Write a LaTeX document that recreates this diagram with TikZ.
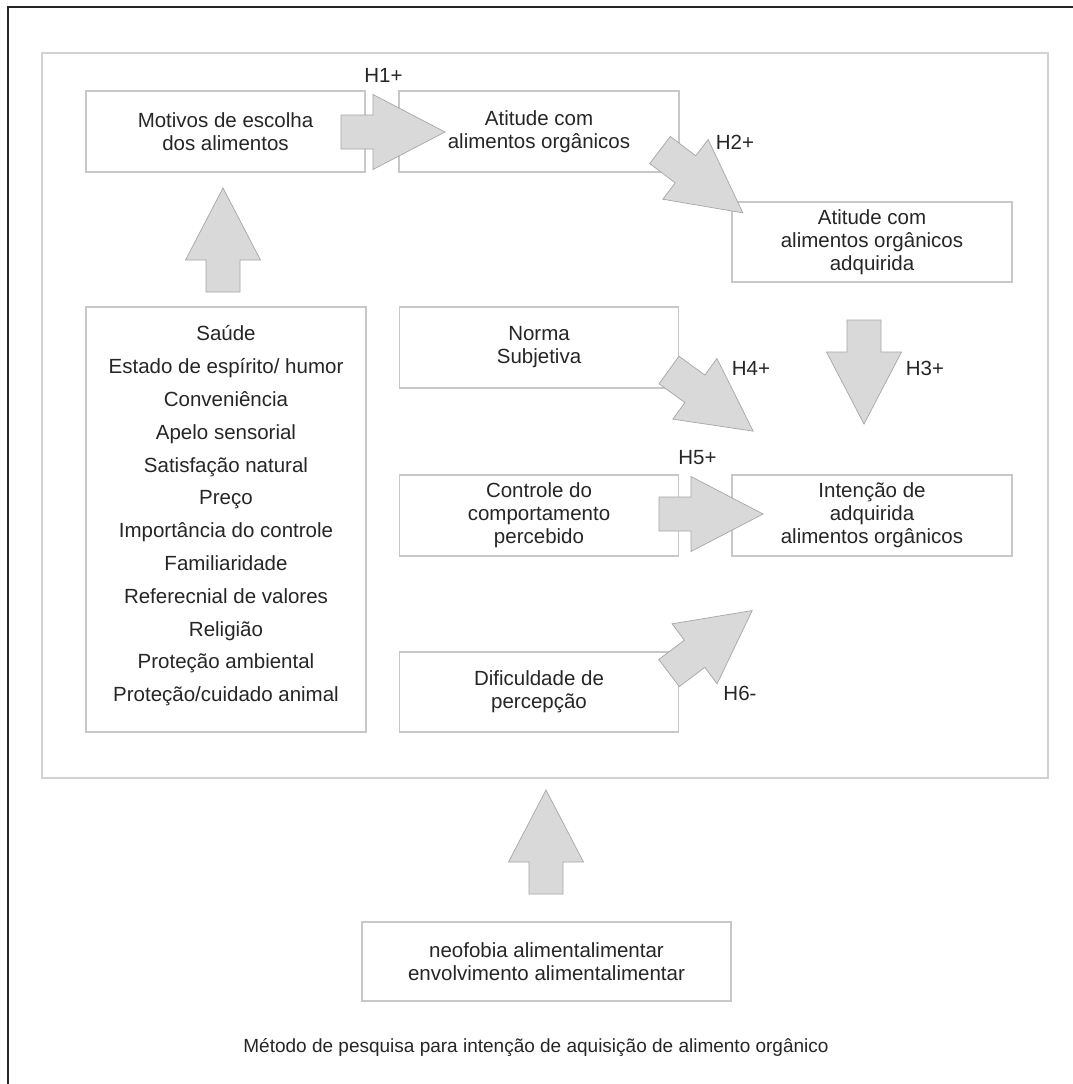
\documentclass[tikz,border=0pt]{standalone}
\usepackage{fontspec}
\setmainfont{Liberation Sans}
\definecolor{boxgray}{HTML}{C8C8C8}
\definecolor{framegray}{HTML}{D2D2D2}
\definecolor{arrfill}{HTML}{D9D9D9}
\definecolor{arrdraw}{HTML}{A6A6A6}
\definecolor{txt}{HTML}{262626}
\newcommand\blockarrow[2]{%
  \filldraw[arr, shift={#1}, rotate=#2] (0,-17) -- (32,-17) -- (32,-37.5) -- (104,0) -- (32,37.5) -- (32,17) -- (0,17) -- cycle;}
\begin{document}
\begin{tikzpicture}[x=1pt,y=-1pt,
  box/.style={draw=boxgray, line width=1.2pt, fill=white, inner sep=0pt, outer sep=0pt,
    align=center, text=txt, font=\fontsize{20.5}{23}\selectfont},
  lbl/.style={inner sep=0pt, text=txt, font=\fontsize{20.5}{23}\selectfont},
  arr/.style={fill=arrfill, draw=arrdraw, line width=0.7pt, line join=miter}]
\useasboundingbox (0,0) rectangle (1072,1084);
\fill[white] (0,0) rectangle (1072,1084);
% outer frame (only left and top visible)
\draw[line width=2pt, black!85] (8,1090) -- (8,7) -- (1080,7);
% inner frame
\draw[framegray, line width=1.5pt] (42,53) rectangle (1048,778);

% boxes
\node[box, minimum width=279pt, minimum height=81pt] (motivos) at (225.5,131.5) {Motivos de escolha\\dos alimentos};
\node[box, minimum width=280pt, minimum height=81pt] (atitude) at (539,131.5) {Atitude com\\alimentos orgânicos};
\node[box, minimum width=280pt, minimum height=80pt] (adquirida) at (872,242) {Atitude com\\alimentos orgânicos\\adquirida};
\node[box, minimum width=280pt, minimum height=425pt] (lista) at (226,519.5) {};
\node[align=center, text=txt, inner sep=0pt, font=\fontsize{20.5}{32.8}\selectfont] (listatxt) at (226,516)
  {Saúde\\Estado de espírito/ humor\\Conveniência\\Apelo sensorial\\Satisfação natural\\Preço\\Importância do controle\\Familiaridade\\Referecnial de valores\\Religião\\Proteção ambiental\\Proteção/cuidado animal};
\node[box, minimum width=279pt, minimum height=81pt] (norma) at (539,347.5) {Norma\\Subjetiva};
\node[box, minimum width=279pt, minimum height=81pt] (controle) at (539,515.5) {Controle do\\comportamento\\percebido};
\node[box, minimum width=280pt, minimum height=81pt] (intencao) at (872,515.5) {Intenção de\\adquirida\\alimentos orgânicos};
\node[box, minimum width=279pt, minimum height=80pt] (dific) at (539,692) {Dificuldade de\\percepção};
\node[box, minimum width=369pt, minimum height=79pt] (neofobia) at (546.5,961.5) {neofobia alimentalimentar\\envolvimento alimentalimentar};

% block arrows
\blockarrow{(223,292)}{90}
\blockarrow{(341,132)}{0}
\blockarrow{(660,150)}{-37.2}
\blockarrow{(864,320)}{-90}
\blockarrow{(669,370)}{-36.0}
\blockarrow{(659,514)}{0}
\blockarrow{(669,673)}{36.9}
\blockarrow{(546,894)}{90}

% labels
\node[lbl] (h1) at (383.5,75) {H1+};
\node[lbl] (h2) at (735,142) {H2+};
\node[lbl] (h3) at (925,368) {H3+};
\node[lbl] (h4) at (751,368) {H4+};
\node[lbl] (h5) at (697.5,458) {H5+};
\node[lbl] (h6) at (740,693) {H6-};

% caption
\node[inner sep=0pt, text=txt, font=\fontsize{19}{22}\selectfont] (caption) at (536,1048)
  {Método de pesquisa para intenção de aquisição de alimento orgânico};
\end{tikzpicture}
\end{document}
